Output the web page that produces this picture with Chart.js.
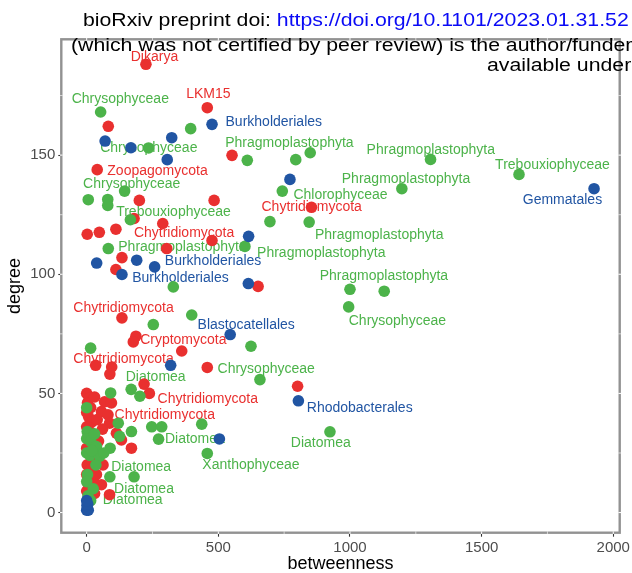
<!DOCTYPE html>
<html><head><meta charset="utf-8">
<script src="https://cdn.jsdelivr.net/npm/chart.js@4"></script>
<style>
html,body{margin:0;padding:0;background:#fff;overflow:hidden}
#wrap{position:relative;width:632px;height:573px;overflow:hidden}
#c{position:absolute;left:0;top:0}
.hd{position:absolute;white-space:nowrap;font:17.5px/17.5px "Liberation Sans",Arial,sans-serif;color:#000;transform:scaleX(1.215);transform-origin:0 0}
.hd .lk{color:#0a0af5}
</style></head>
<body><div id="wrap">
<canvas id="c" width="632" height="573"></canvas>
<div class="hd" style="left:82.7px;top:12px">bioRxiv preprint doi: <span class="lk">https://doi.org/10.1101/2023.01.31.52</span></div>
<div class="hd" style="left:71.3px;top:37px">(which was not certified by peer review) is the author/funder</div>
<div class="hd" style="left:487px;top:57px">available under</div>
</div>
<script>
'use strict';
// betweenness (x) / degree (y) per node, split by group
const fungiX=[225,458,82,552,40,854,200,484,180,2,48,111,289,304,476,134,111,651,134,187,177,361,34,95,88,458,801,218,238,
  0,10,3,15,0,8,20,0,12,4,18,0,9,22,2,14,0,25,6,17,0,30,10,30,68,94,56,81,40,87,60,113,132,45,170,62,37,56,87,28,40];
const fungiY=[188.1,169.9,162.1,149.9,143.9,128.1,131,131,123.4,116.8,117.6,118.9,121.3,110.8,114.2,107,102,94.9,81.7,74,71.6,67.8,61.8,61.1,58.1,60.9,53,53.9,50,
  50,48,46,44,42,40,38,36,34,31,29,27,25,22,20,18,16,14,12,10,9,8,6,48.5,46.5,46,42.4,41,39,37.5,35,33.3,30.5,30,27,20,16,11.7,7.5,23,26];
const algaeX=[53,395,235,610,794,849,1306,1642,1197,743,696,845,6,80,80,144,166,82,601,329,1000,1130,995,399,253,624,15,658,924,169,202,91,437,247,285,273,458,88,180,
  0,2,0,0,3,0,5,15,12,120,125,170,37,49,89,65,30,20,35,25,15];
const algaeY=[168.1,161.1,153,147.8,148.1,151,148.2,141.9,135.9,134.9,122.1,121.9,131.3,131.4,128.9,134.9,122.9,110.8,111.7,94.7,93.7,92.9,86.3,82.9,78.9,69.8,69,55.8,33.9,51.7,48.8,50.2,37.1,36,36,30.8,24.8,15,15,
  44,34,31,25,16,13,7,30,24,37.5,32,34,27.7,23.6,27,25,33,26,20,10,5];
const bactX=[476,323,70,168,306,1927,772,615,38,190,258,134,614,545,319,804,504,0,3,6,1,4,0];
const bactY=[162.9,157.3,155.9,153.1,148.1,135.9,139.8,115.9,104.7,105.9,103.1,99.9,96.1,74.7,61.8,46.9,30.9,1,1.5,1,3,3.5,5];

// text labels: name, group, position in data units
const labelText=['Dikarya','LKM15','Burkholderiales','Chrysophyceae','Chrysophyceae','Zoopagomycota','Chrysophyceae','Trebouxiophyceae','Chytridiomycota',
  'Phragmoplastophyta','Phragmoplastophyta','Trebouxiophyceae','Phragmoplastophyta','Gemmatales','Chlorophyceae','Chytridiomycota','Phragmoplastophyta','Phragmoplastophyta',
  'Phragmoplastophyta','Burkholderiales','Burkholderiales','Phragmoplastophyta','Chrysophyceae','Chytridiomycota','Blastocatellales','Cryptomycota','Chytridiomycota',
  'Chrysophyceae','Diatomea','Chytridiomycota','Rhodobacterales','Chytridiomycota','Diatomea','Diatomea','Xanthophyceae','Diatomea','Diatomea','Diatomea'];
const labelGroup=['f','f','b','a','a','f','a','a','f','a','a','a','a','b','a','f','a','a','a','b','b','a','a','f','b','f','f','a','a','f','b','f','a','a','a','a','a','a'];
const labelX=[257.5,462,710.6,127.6,235.9,269,171,329.7,370,770,1307,1769,1212.7,1807,964,854.5,1111,891,363.8,480,356,1129,1180,139.8,605.8,367,139.8,681.7,262,460,1037,296.7,411,889,624,207,217.6,174.7];
const labelY=[191.5,175.8,164.2,173.7,153.4,143.9,138.3,126.5,117.7,155.5,152.7,146.1,140.5,131.4,133.5,128.5,116.8,109.2,111.9,105.9,98.6,99.6,80.7,86.3,79,72.6,64.9,60.5,57.2,47.9,44.4,41.2,31.4,29.7,20.2,19.5,10.1,5.5];

const xTicks=[0,500,1000,1500,2000], xMinor=[250,750,1250,1750];
const yTicks=[0,50,100,150], yMinor=[25,75,125,175];

const COL={f:'#e9302f',a:'#4cb34a',b:'#2155a3'};
const FONT='"Liberation Sans", Arial, Helvetica, sans-serif';
const pts=(xs,ys)=>xs.map((x,i)=>({x,y:ys[i]}));

// frame, white grid notches on the frame, then the text labels (points go on top)
const panel={id:'panel', beforeDatasetsDraw(ch){
  const {ctx,chartArea:a,scales:{x,y}}=ch;
  ctx.save();
  ctx.strokeStyle='#929292'; ctx.lineWidth=2.4;
  ctx.strokeRect(a.left,a.top,a.right-a.left,a.bottom-a.top);
  ctx.strokeStyle='#fff';
  const seg=(x1,y1,x2,y2)=>{ctx.beginPath();ctx.moveTo(x1,y1);ctx.lineTo(x2,y2);ctx.stroke();};
  [...xTicks,...xMinor].forEach(v=>{ const p=x.getPixelForValue(v); ctx.lineWidth=xTicks.includes(v)?1:0.6;
    seg(p,a.top-1.3,p,a.top+1.3); seg(p,a.bottom-1.3,p,a.bottom+1.3); });
  [...yTicks,...yMinor].forEach(v=>{ const p=y.getPixelForValue(v); ctx.lineWidth=yTicks.includes(v)?1:0.6;
    seg(a.left-1.3,p,a.left+1.3,p); seg(a.right-1.3,p,a.right+1.3,p); });
  ctx.font='14px '+FONT; ctx.textAlign='center'; ctx.textBaseline='middle';
  labelText.forEach((t,i)=>{ ctx.fillStyle=COL[labelGroup[i]]; ctx.fillText(t, x.getPixelForValue(labelX[i]), y.getPixelForValue(labelY[i])+1); });
  ctx.restore();
}};

const dot=(data,c,order)=>({data,order,backgroundColor:c,borderWidth:0,pointRadius:5.8,pointHoverRadius:5.8});
const noPad=s=>{s.paddingLeft=0;s.paddingRight=0;s.paddingTop=0;s.paddingBottom=0;};

new Chart(document.getElementById('c'),{
  type:'scatter',
  data:{datasets:[
    dot(pts(fungiX,fungiY),COL.f,3),
    dot(pts(algaeX,algaeY),COL.a,2),
    dot(pts(bactX,bactY),COL.b,1)
  ]},
  options:{responsive:false,animation:false,devicePixelRatio:1,
    layout:{padding:{top:39.3,right:12.3,left:0,bottom:0}},
    plugins:{legend:{display:false},tooltip:{enabled:false}},
    scales:{
      x:{type:'linear',min:-96.4,max:2024.4,
        afterBuildTicks:s=>{s.ticks=xTicks.map(v=>({value:v}));},
        afterFit:s=>{s.height=40.3;noPad(s);},
        grid:{drawOnChartArea:false,drawTicks:true,tickLength:4,tickColor:'#333',tickWidth:1.1},
        border:{display:false},
        ticks:{autoSkip:false,maxRotation:0,color:'#4d4d4d',font:{size:15,family:FONT},padding:2,callback:v=>String(v)},
        title:{display:true,text:'betweenness',color:'#000',font:{size:18,family:FONT,lineHeight:1},padding:0}},
      y:{type:'linear',min:-8.45,max:198.6,
        afterBuildTicks:s=>{s.ticks=yTicks.map(v=>({value:v}));},
        afterFit:s=>{s.width=61.3;noPad(s);},
        grid:{drawOnChartArea:false,drawTicks:true,tickLength:3,tickColor:'#333',tickWidth:1.1},
        border:{display:false},
        ticks:{autoSkip:false,color:'#4d4d4d',font:{size:15,family:FONT},padding:3,callback:v=>String(v)},
        title:{display:true,text:'degree',color:'#000',font:{size:18,family:FONT,lineHeight:1},padding:{top:6,bottom:0}}}
    }
  },
  plugins:[panel]
});
</script>
</body></html>
